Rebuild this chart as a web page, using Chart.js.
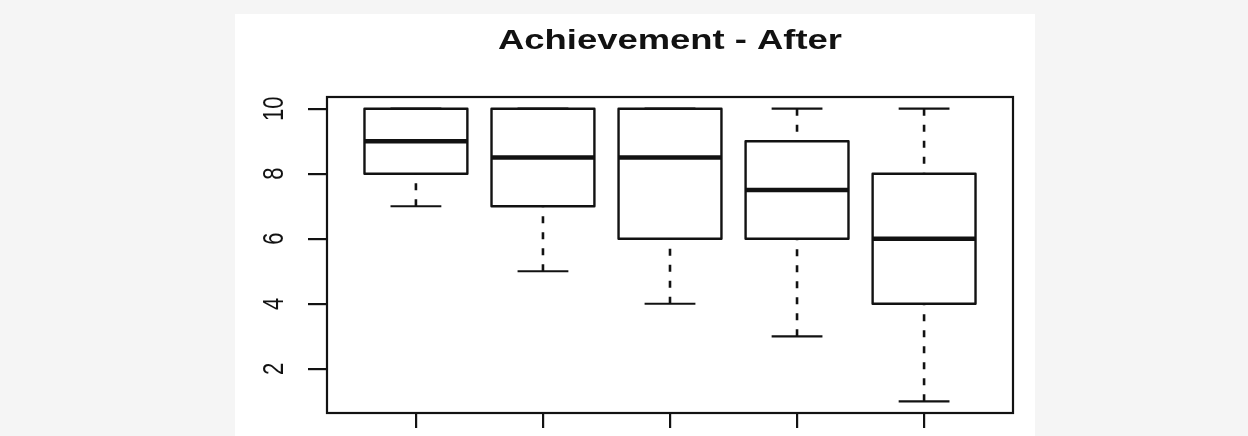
<!DOCTYPE html>
<html>
<head>
<meta charset="utf-8">
<script src="https://cdn.jsdelivr.net/npm/chart.js@4/dist/chart.umd.min.js"></script>
<style>
  html, body { margin: 0; padding: 0; background: #f5f5f5; }
  #panel { position: absolute; left: 235px; top: 14px; width: 800px; height: 422px; background: #fff; }
</style>
</head>
<body>
<div id="panel"><canvas id="myChart"></canvas></div>
<script>
const titleText = "Achievement - After";
const positions = [1, 2, 3, 4, 5];
const lowerWhisker = [7, 5, 4, 3, 1];
const q1 = [8, 7, 6, 6, 4];
const median = [9, 8.5, 8.5, 7.5, 6];
const q3 = [10, 10, 10, 9, 8];
const upperWhisker = [10, 10, 10, 10, 10];
const yTicks = [2, 4, 6, 8, 10];

const ink = "#121212";
const stretch = 1.3; // text is drawn a bit wider than tall

// box outlines, whiskers, caps, medians, frame, title and y labels
const boxExtras = {
  id: "boxExtras",
  afterDatasetsDraw(chart) {
    const ctx = chart.ctx;
    const xs = chart.scales.x;
    const ys = chart.scales.y;
    const meta = chart.getDatasetMeta(0);
    ctx.save();
    ctx.strokeStyle = ink;
    ctx.lineJoin = "round";
    positions.forEach((p, i) => {
      const bar = meta.data[i];
      const left = bar.x - bar.width / 2;
      const right = bar.x + bar.width / 2;
      const cx = xs.getPixelForValue(p);
      const capHalf = xs.getPixelForValue(p + 0.2) - cx;

      // box outline centred on the quartile values
      ctx.lineWidth = 2.4;
      ctx.strokeRect(left, Math.min(bar.y, bar.base), bar.width, Math.abs(bar.base - bar.y));

      // dashed whiskers, drawn from the extreme toward the box
      ctx.lineWidth = 2.6;
      ctx.setLineDash([7, 9]);
      [[lowerWhisker[i], q1[i]], [upperWhisker[i], q3[i]]].forEach(([a, b]) => {
        if (a === b) return;
        ctx.beginPath();
        ctx.moveTo(cx, ys.getPixelForValue(a));
        ctx.lineTo(cx, ys.getPixelForValue(b));
        ctx.stroke();
      });
      ctx.setLineDash([]);

      // caps
      ctx.lineWidth = 2.2;
      [lowerWhisker[i], upperWhisker[i]].forEach((v) => {
        const y = ys.getPixelForValue(v);
        ctx.beginPath();
        ctx.moveTo(cx - capHalf, y);
        ctx.lineTo(cx + capHalf, y);
        ctx.stroke();
      });

      // median
      const my = ys.getPixelForValue(median[i]);
      ctx.lineWidth = 4.6;
      ctx.beginPath();
      ctx.moveTo(left, my);
      ctx.lineTo(right, my);
      ctx.stroke();
    });
    ctx.restore();
  },
  afterDraw(chart) {
    const ctx = chart.ctx;
    const area = chart.chartArea;
    const ys = chart.scales.y;
    ctx.save();
    ctx.strokeStyle = ink;
    ctx.lineWidth = 2.2;
    ctx.strokeRect(area.left, area.top, area.right - area.left, area.bottom - area.top);

    ctx.fillStyle = ink;
    // title
    ctx.font = "bold 28px 'Liberation Sans', Arial, sans-serif";
    ctx.textAlign = "center";
    ctx.textBaseline = "alphabetic";
    ctx.save();
    ctx.translate((area.left + area.right) / 2, 35);
    ctx.scale(stretch, 1);
    ctx.fillText(titleText, 0, 0);
    ctx.restore();

    // y tick labels, parallel to the axis
    ctx.font = "22px 'Liberation Sans', Arial, sans-serif";
    ctx.textBaseline = "middle";
    ys.ticks.forEach((t) => {
      ctx.save();
      ctx.translate(area.left - 53, ys.getPixelForValue(t.value));
      ctx.scale(stretch, 1);
      ctx.rotate(-Math.PI / 2);
      ctx.fillText(String(t.value), 0, 1);
      ctx.restore();
    });
    ctx.restore();
  }
};

const ctx = document.getElementById("myChart").getContext("2d");
window.chart = new Chart(ctx, {
  type: "bar",
  data: {
    datasets: [
      {
        label: titleText,
        data: positions.map((p, i) => ({ x: p, y: [q1[i], q3[i]] })),
        backgroundColor: "#ffffff",
        borderWidth: 0,
        categoryPercentage: 0.81,
        barPercentage: 1,
      },
    ],
  },
  options: {
    responsive: true,
    maintainAspectRatio: false,
    animation: false,
    layout: { padding: { left: 73, right: 22, top: 83, bottom: 8 } },
    plugins: {
      legend: { display: false },
      title: { display: false },
      tooltip: { enabled: false },
    },
    scales: {
      x: {
        type: "linear",
        min: 0.3,
        max: 5.7,
        offset: false,
        afterBuildTicks: (s) => { s.ticks = positions.map((v) => ({ value: v })); },
        border: { display: false },
        grid: {
          offset: false,
          drawOnChartArea: false,
          drawTicks: true,
          tickLength: 15,
          color: ink,
          lineWidth: 2.2,
        },
        ticks: { display: false },
      },
      y: {
        type: "linear",
        min: 0.64,
        max: 10.36,
        beginAtZero: false,
        afterBuildTicks: (s) => { s.ticks = yTicks.map((v) => ({ value: v })); },
        border: { display: false },
        grid: {
          drawOnChartArea: false,
          drawTicks: true,
          tickLength: 19,
          color: ink,
          lineWidth: 2.2,
        },
        ticks: { display: false },
      },
    },
  },
  plugins: [boxExtras],
});
</script>
</body>
</html>
